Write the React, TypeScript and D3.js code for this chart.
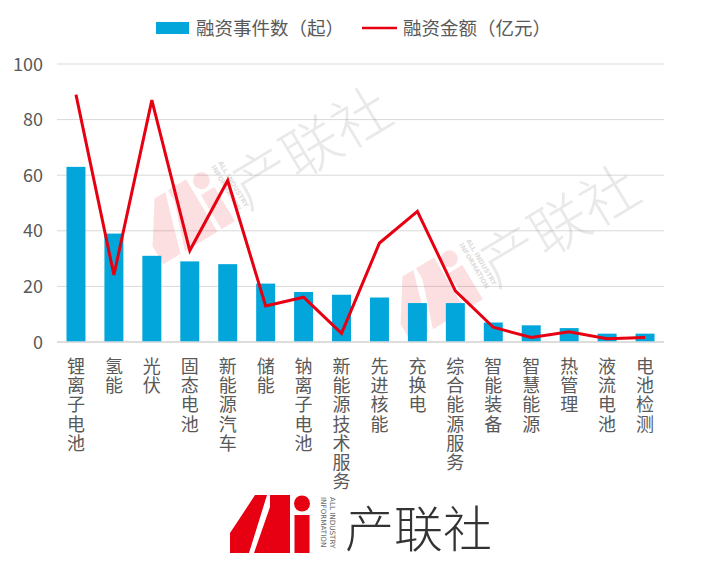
import { useMemo } from 'react';
import * as d3 from 'd3';

// Categories (x axis), read left to right
const categories = [
  '锂离子电池', '氢能', '光伏', '固态电池', '新能源汽车', '储能', '钠离子电池', '新能源技术服务',
  '先进核能', '充换电', '综合能源服务', '智能装备', '智慧能源', '热管理', '液流电池', '电池检测',
];
// 融资事件数（起）
const eventCounts = [63, 39, 31, 29, 28, 21, 18, 17, 16, 14, 14, 7, 6, 5, 3, 3];
// 融资金额（亿元）
const amounts = [89, 24.1, 87, 32.9, 58.1, 13, 16.1, 3.1, 35.6, 47, 18.4, 5.3, 1.6, 3.7, 1.2, 1.6];
const yTickValues = [0, 20, 40, 60, 80, 100];
const legendLabels = ['融资事件数（起）', '融资金额（亿元）'];

const W = 720;
const H = 579;
const margin = { top: 64, right: 56, bottom: 237, left: 57 };
const BAR = '#02A6DA';
const RED = '#E60012';
const TEXT = '#595959';
const FONT = '"Noto Sans CJK SC", "Microsoft YaHei", sans-serif';

// Stylised "Ai" mark, drawn in a 0..80 x 0..58 box
function AiMark({ fill }: { fill: string }) {
  return (
    <g fill={fill}>
      <path d="M0,58 L0,38 Q12,20 25,0 L37,0 L19,58 Z" />
      <path d="M24,58 L40,12 L40,0 L60,0 L60,58 Z" />
      <circle cx={72} cy={8.5} r={8} />
      <rect x={64.5} y={20} width={15} height={38} />
    </g>
  );
}

function Watermark({ x, y }: { x: number; y: number }) {
  return (
    <g transform={`translate(${x},${y}) rotate(-31)`}>
      <g transform="scale(1.05)" opacity={0.12}>
        <AiMark fill={RED} />
      </g>
      <g
        transform="translate(92,2) rotate(90)"
        fontFamily="DejaVu Sans, sans-serif"
        fontSize={6.5}
        fontWeight={700}
        fill="#bbb"
        opacity={0.5}
      >
        <text x={0} y={-7}>ALL INDUSTRY</text>
        <text x={0} y={1}>INFORMATION</text>
      </g>
      <text x={100} y={58} fontSize={58} fontFamily={FONT} fontWeight={300} fill="#555" opacity={0.12}>
        产联社
      </text>
    </g>
  );
}

export default function App() {
  const innerW = W - margin.left - margin.right;
  const innerH = H - margin.top - margin.bottom;

  const x = useMemo(
    () => d3.scaleBand<string>().domain(categories).range([0, innerW]).paddingInner(0.5).paddingOuter(0.25),
    [innerW]
  );
  const y = useMemo(() => d3.scaleLinear().domain([0, 100]).range([innerH, 0]), [innerH]);

  const cx = (c: string) => (x(c) ?? 0) + x.bandwidth() / 2;

  const line = d3
    .line<number>()
    .x((_, i) => cx(categories[i]))
    .y((d) => y(d));

  return (
    <svg
      width={W}
      height={H}
      style={{ position: 'absolute', left: 0, top: 0, background: '#fff' }}
      fontFamily={FONT}
    >
      {/* Legend */}
      <g fontSize={18.5} fill={TEXT}>
        <rect x={156} y={22} width={33} height={12} fill={BAR} />
        <text x={196} y={35}>{legendLabels[0]}</text>
        <line x1={362} x2={397} y1={28} y2={28} stroke={RED} strokeWidth={2.5} />
        <text x={403} y={35}>{legendLabels[1]}</text>
      </g>

      <g transform={`translate(${margin.left},${margin.top})`}>
        {/* grid + y labels */}
        {yTickValues.map((t) => (
          <g key={t} transform={`translate(0,${y(t)})`}>
            <line x1={0} x2={innerW} stroke="#D9D9D9" strokeWidth={1} />
            <text x={-14} y={6.5} fontSize={18} textAnchor="end" fill={TEXT}>
              {t}
            </text>
          </g>
        ))}

        {/* watermarks sit behind the marks */}
        <g transform={`translate(${-margin.left},${-margin.top})`}>
          <Watermark x={132} y={212} />
          <Watermark x={380} y={290} />
        </g>

        {/* bars */}
        {eventCounts.map((v, i) => (
          <rect
            key={categories[i]}
            x={x(categories[i])}
            y={y(v)}
            width={x.bandwidth()}
            height={innerH - y(v)}
            fill={BAR}
          />
        ))}

        {/* baseline */}
        <line x1={0} x2={innerW} y1={innerH} y2={innerH} stroke="#D9D9D9" strokeWidth={1.5} />

        {/* amount line */}
        <path d={line(amounts) ?? ''} fill="none" stroke={RED} strokeWidth={3} strokeLinejoin="miter" />

        {/* vertical category labels, one glyph per row */}
        {categories.map((c) =>
          Array.from(c).map((ch, k) => (
            <text
              key={`${c}-${k}`}
              x={cx(c)}
              y={innerH + 31 + k * 19.2}
              fontSize={18}
              textAnchor="middle"
              fill={TEXT}
            >
              {ch}
            </text>
          ))
        )}
      </g>

      {/* bottom brand logo */}
      <g transform="translate(230,495)">
        <AiMark fill={RED} />
      </g>
      <g transform="translate(328,497) rotate(90)" fontFamily="DejaVu Sans, sans-serif" fontSize={7.2} fill="#666">
        <text x={0} y={-2}>ALL INDUSTRY</text>
        <text x={0} y={7}>INFORMATION</text>
      </g>
      <text x={345} y={547} fontSize={49} fontFamily={FONT} fontWeight={300} fill="#333">
        产联社
      </text>
    </svg>
  );
}
